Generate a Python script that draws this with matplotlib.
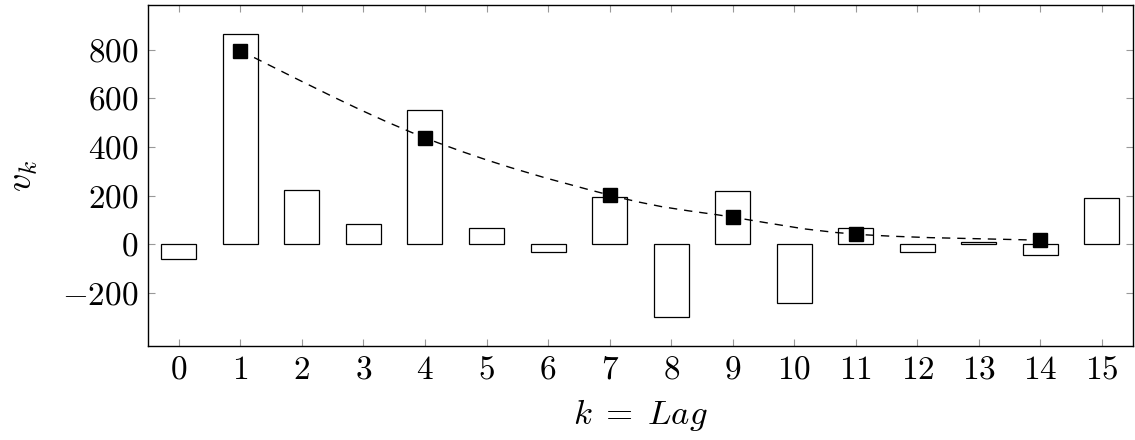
import numpy as np
import matplotlib
matplotlib.use("Agg")
from matplotlib import pyplot as plt
from matplotlib.path import Path
from matplotlib.patches import PathPatch

plt.rcParams["font.family"] = "serif"
plt.rcParams["font.serif"] = ["cmr10"]
plt.rcParams["mathtext.fontset"] = "cm"
plt.rcParams["axes.formatter.use_mathtext"] = True

# autocorrelation-like values per lag
lags = list(range(16))
values = [-60, 867, 221, 84, 553, 67, -32, 193, -302, 219, -242, 66, -33, 8, -47, 191]

# selected lags and their fitted values
fit_lags = [1, 4, 7, 9, 11, 14]
fit_values = [796, 438, 202, 111, 41, 16]

fig = plt.figure(figsize=(11.35, 4.4), dpi=100)
ax = fig.add_axes([0.1304, 0.2136, 0.8676, 0.775])

ax.bar(lags, values, width=0.57, facecolor="white", edgecolor="black", linewidth=0.9, zorder=2)

# smooth dashed curve through the fitted points (cubic Bezier, pgfplots-like smoothing)
px = np.array(fit_lags, dtype=float)
py = np.array(fit_values, dtype=float)
tension = 0.55 / 3
verts = [(px[0], py[0])]
codes = [Path.MOVETO]
for i in range(len(px) - 1):
    prev = i - 1 if i > 0 else i
    nxt = i + 2 if i + 2 < len(px) else i + 1
    c1 = (px[i] + tension * (px[i + 1] - px[prev]), py[i] + tension * (py[i + 1] - py[prev]))
    c2 = (px[i + 1] - tension * (px[nxt] - px[i]), py[i + 1] - tension * (py[nxt] - py[i]))
    verts += [c1, c2, (px[i + 1], py[i + 1])]
    codes += [Path.CURVE4] * 3
curve = PathPatch(Path(verts, codes), facecolor="none", edgecolor="black",
                  linewidth=1.0, linestyle=(0, (6, 5)), zorder=3)
ax.add_patch(curve)

ax.plot(fit_lags, fit_values, linestyle="none", marker="s", markersize=10.5,
        color="black", zorder=4)

ax.set_xlim(-0.5, 15.5)
ax.set_ylim(-420, 985)
ax.set_xticks(lags)
ax.set_yticks([-200, 0, 200, 400, 600, 800])
ax.tick_params(direction="in", length=5, width=0.8, color="#999999",
               top=True, right=True, labelsize=24, pad=7)
for s in ax.spines.values():
    s.set_linewidth(1.0)

ax.set_xlabel(r"$k\;=\;Lag$", fontsize=25, labelpad=9)
ax.set_ylabel(r"$v_k$", fontsize=26, labelpad=16)

fig.savefig("out.png", dpi=100)
